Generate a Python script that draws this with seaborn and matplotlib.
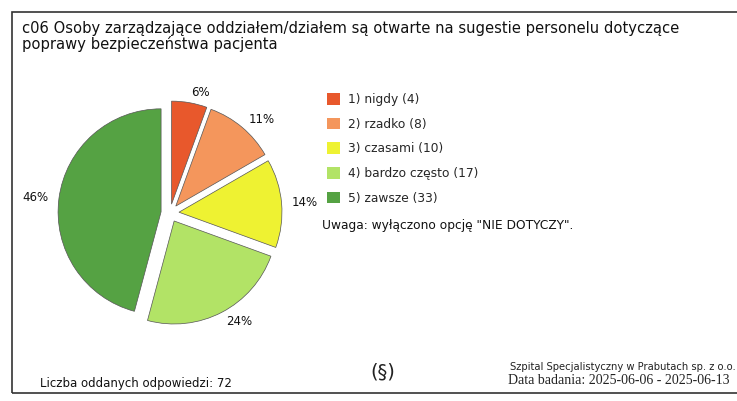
import matplotlib.pyplot as plt
import seaborn as sns
from matplotlib.patches import Patch, Rectangle

sns.set_theme(style="white")
plt.rcParams['font.family'] = ['DejaVu Sans']

categories = ['1) nigdy', '2) rzadko', '3) czasami', '4) bardzo często', '5) zawsze']
counts = [4, 8, 10, 17, 33]
colors = ['#e8582c', '#f4965c', '#eef232', '#b2e366', '#55a243']
title = 'c06 Osoby zarządzające oddziałem/działem są otwarte na sugestie personelu dotyczące\npoprawy bezpieczeństwa pacjenta'
total = sum(counts)
pct_labels = [f'{round(100 * c / total)}%' for c in counts]

fig = plt.figure(figsize=(7.37, 4.01), dpi=100)
fig.patch.set_facecolor('white')

# frame around the whole card
fig.add_artist(Rectangle((12 / 737, 8 / 401), 740 / 737, 381 / 401, transform=fig.transFigure,
                         fill=False, edgecolor='#333333', linewidth=1.2))

ax = fig.add_axes([50 / 737, (401 - 213 - 120) / 401, 240 / 737, 240 / 401])
ax.pie(counts, colors=colors, labels=pct_labels, startangle=90, counterclock=False,
       radius=1.03, explode=[0.09] * len(counts), labeldistance=1.1,
       wedgeprops=dict(edgecolor='#555555', linewidth=0.5),
       textprops=dict(fontsize=8.5, color='#111111'))
ax.set_xlim(-1.2, 1.2)
ax.set_ylim(-1.2, 1.2)
ax.set_aspect('equal')
ax.axis('off')

fig.text(22 / 737, 1 - 21 / 401, title, fontsize=10.6, va='top', ha='left', color='#111111',
         linespacing=1.0)

handles = [Patch(facecolor=col, edgecolor='none') for col in colors]
leg_labels = [f'{c} ({n})' for c, n in zip(categories, counts)]
fig.legend(handles, leg_labels, loc='upper left', bbox_to_anchor=(316 / 737, 1 - 82 / 401),
           frameon=False, fontsize=8.8, handlelength=1.1, handleheight=1.1,
           labelspacing=0.95, handletextpad=0.6)
fig.text(322 / 737, 1 - 225 / 401, 'Uwaga: wyłączono opcję "NIE DOTYCZY".', fontsize=8.8,
         va='center', ha='left', color='#111111')

fig.text(40 / 737, 1 - 383 / 401, 'Liczba oddanych odpowiedzi: 72', fontsize=8.5,
         va='center', ha='left', color='#111111')
fig.text(383 / 737, 1 - 372 / 401, '(§)', fontsize=14, va='center', ha='center', color='#222222')
fig.text(510 / 737, 1 - 367 / 401, 'Szpital Specjalistyczny w Prabutach sp. z o.o.', fontsize=7.2,
         va='center', ha='left', color='#222222')
fig.text(508 / 737, 1 - 381 / 401, 'Data badania: 2025-06-06 - 2025-06-13', fontsize=10,
         va='center', ha='left', color='#222222', family='Liberation Serif')

fig.savefig('out.png', dpi=100, facecolor='white')
